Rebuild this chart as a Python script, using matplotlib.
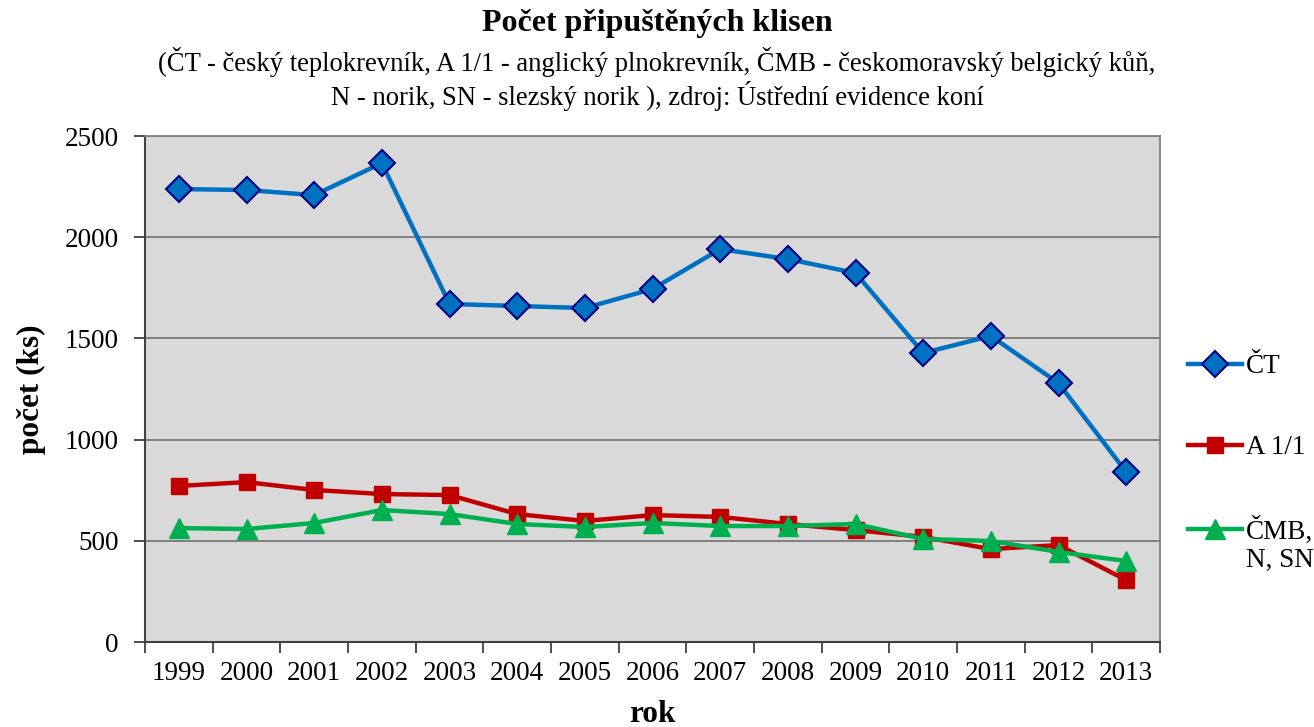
import matplotlib
matplotlib.use("Agg")
import matplotlib.pyplot as plt
import numpy as np

years = ["1999", "2000", "2001", "2002", "2003", "2004", "2005", "2006",
         "2007", "2008", "2009", "2010", "2011", "2012", "2013"]
ct = [2238, 2233, 2208, 2366, 1670, 1660, 1650, 1744, 1941, 1892, 1823, 1428, 1512, 1279, 840]
a11 = [771, 790, 751, 731, 726, 632, 598, 627, 618, 583, 553, 519, 459, 479, 306]
cmb = [563, 558, 588, 652, 632, 583, 568, 588, 573, 573, 583, 509, 499, 445, 400]
labels = ["ČT", "A 1/1", "ČMB,"]
label_cont = "N, SN"

plt.rcParams['font.family'] = ['Liberation Serif', 'DejaVu Serif']

fig = plt.figure(figsize=(13.14, 7.27), dpi=100)
ax = fig.add_axes([145/1314, 85/727, (1160-145)/1314, (642-136)/727])
ax.set_facecolor('#D9D9D9')

x = np.arange(len(years))
ax.plot(x, ct, color='#0070C0', lw=3.2, marker='D', markersize=13,
        markerfacecolor='#0070C0', markeredgecolor='#000080', markeredgewidth=1.5,
        label=labels[0], zorder=3)
ax.plot(x, a11, color='#C00000', lw=3.2, marker='s', markersize=12,
        markerfacecolor='#C00000', markeredgecolor='#C00000',
        label=labels[1], zorder=3)
ax.plot(x, cmb, color='#00B050', lw=3.2, marker='^', markersize=14,
        markerfacecolor='#00B050', markeredgecolor='#00B050',
        label=labels[2], zorder=3)

ax.set_xlim(-0.5, len(years) - 0.5)
ax.set_ylim(0, 2500)
ax.set_yticks(np.arange(0, 2501, 500))
ax.yaxis.grid(True, color='#707070', lw=1.2)
ax.set_axisbelow(True)

ax.set_xticks(np.arange(-0.5, len(years), 1.0))
ax.set_xticklabels([])
ax.set_xticks(x, minor=True)
ax.set_xticklabels(years, minor=True)
ax.tick_params(axis='x', which='minor', length=0, pad=14, labelsize=19.5)
ax.tick_params(axis='x', which='major', length=8, width=1.3, color='#404040', direction='out')
ax.tick_params(axis='y', length=8, width=1.3, color='#404040', labelsize=19.5, pad=11)

for s in ['top', 'right']:
    ax.spines[s].set_color('#808080')
    ax.spines[s].set_linewidth(1.3)
for s in ['left', 'bottom']:
    ax.spines[s].set_color('#404040')
    ax.spines[s].set_linewidth(1.5)

ax.set_xlabel('rok', fontsize=22.5, fontweight='bold', labelpad=10)
ax.set_ylabel('počet (ks)', fontsize=22.5, fontweight='bold', labelpad=13)

fig.text(0.5, 1 - 23/727, 'Počet připuštěných klisen', ha='center', va='center',
         fontsize=23, fontweight='bold')
fig.text(0.5, 1 - 79/727,
         '(ČT - český teplokrevník, A 1/1 - anglický plnokrevník, ČMB - českomoravský belgický kůň,\n'
         'N - norik, SN - slezský norik ), zdroj: Ústřední evidence koní',
         ha='center', va='center', fontsize=19.2, linespacing=1.2)

leg = ax.legend(loc='upper left', bbox_to_anchor=(1188/1314, 1 - 354/727),
                bbox_transform=fig.transFigure, frameon=False, fontsize=19.5,
                handlelength=2.0, handletextpad=0.15, labelspacing=2.08, borderaxespad=0,
                borderpad=0)

fig.canvas.draw()
ext = leg.get_texts()[2].get_window_extent()
x0_fig = ext.x0 / fig.bbox.width
y_fig = (ext.y0 - 28) / fig.bbox.height
fig.text(x0_fig, y_fig, label_cont, ha='left', va='bottom', fontsize=19.5)

fig.savefig('out.png', dpi=100)
